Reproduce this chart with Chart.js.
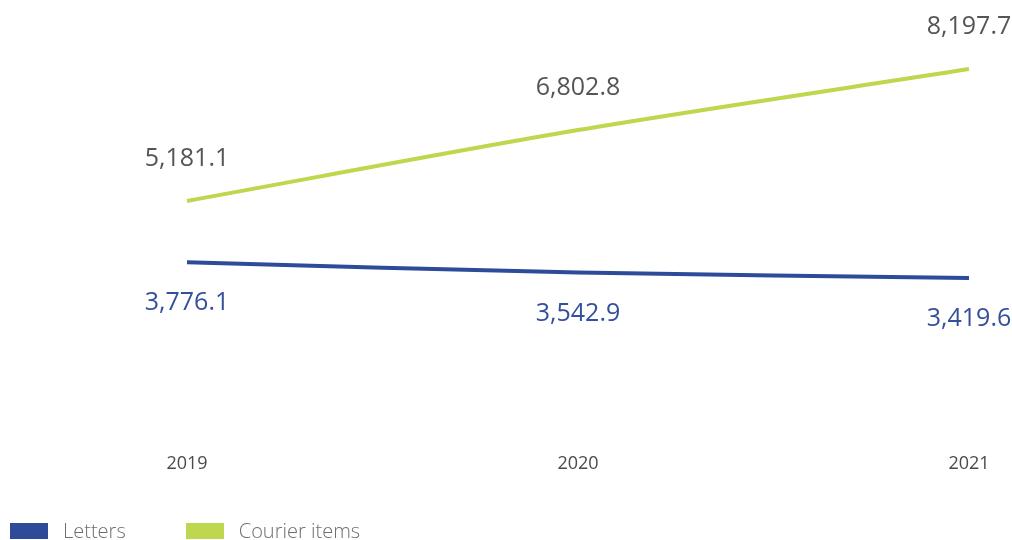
<!DOCTYPE html>
<html>
<head>
<meta charset="utf-8">
<script src="https://cdn.jsdelivr.net/npm/chart.js@4/dist/chart.umd.min.js"></script>
<style>
  html, body { margin: 0; padding: 0; background: #fff; }
  #wrap { position: relative; width: 1012px; height: 540px; overflow: hidden; }
  #c { position: absolute; left: 0; top: 0; }
  .legend { position: absolute; top: 517px; left: 10px; display: flex; align-items: center;
            font-family: 'Open Sans', sans-serif; font-weight: 300; font-size: 20px; color: #6e6e6e; }
  .legend .item { display: flex; align-items: center; margin-right: 60px; }
  .legend .sw { width: 38px; height: 16px; margin-right: 15px; }
</style>
</head>
<body>
<div id="wrap">
  <canvas id="c" width="1012" height="540"></canvas>
  <div class="legend" id="legend"></div>
</div>
<script>
const years = ['2019', '2020', '2021'];
const letters = [3776.1, 3542.9, 3419.6];
const courierItems = [5181.1, 6802.8, 8197.7];

const BLUE = '#2d4b98';
const GREEN = '#bdd74f';

// Value labels: courier items above their points, letters below
const valueLabels = {
  id: 'valueLabels',
  afterDatasetsDraw(chart) {
    const ctx = chart.ctx;
    ctx.save();
    ctx.font = '400 25px "Open Sans", sans-serif';
    ctx.textAlign = 'center';
    ctx.textBaseline = 'middle';
    chart.data.datasets.forEach((ds, i) => {
      const meta = chart.getDatasetMeta(i);
      meta.data.forEach((pt, j) => {
        const v = ds.data[j];
        const txt = v.toLocaleString('en-US', { minimumFractionDigits: 1, maximumFractionDigits: 1 });
        ctx.fillStyle = ds.labelColor;
        ctx.fillText(txt, pt.x, pt.y + ds.labelOffset);
      });
    });
    ctx.restore();
  }
};

new Chart(document.getElementById('c'), {
  type: 'line',
  data: {
    labels: years,
    datasets: [
      { label: 'Letters', data: letters, borderColor: BLUE, backgroundColor: BLUE,
        borderWidth: 4, pointRadius: 0, tension: 0.3, labelColor: '#34509c', labelOffset: 41 },
      { label: 'Courier items', data: courierItems, borderColor: GREEN, backgroundColor: GREEN,
        borderWidth: 4, pointRadius: 0, tension: 0.3, labelColor: '#555555', labelOffset: -42 }
    ]
  },
  options: {
    responsive: false,
    animation: false,
    layout: { padding: { left: 187, right: 43, top: 34, bottom: 65 } },
    plugins: { legend: { display: false }, tooltip: { enabled: false } },
    scales: {
      x: {
        offset: false,
        grid: { display: false, drawTicks: true, tickLength: 26 },
        border: { display: false },
        ticks: { color: '#4a4a4a', padding: 0, font: { family: 'Open Sans', size: 18 } }
      },
      y: { display: false, min: 0, max: 9000 }
    }
  },
  plugins: [valueLabels]
});

// Legend
const legend = document.getElementById('legend');
[['Letters', BLUE], ['Courier items', GREEN]].forEach(([name, col]) => {
  const it = document.createElement('div');
  it.className = 'item';
  it.innerHTML = '<span class="sw" style="background:' + col + '"></span><span>' + name + '</span>';
  legend.appendChild(it);
});
</script>
</body>
</html>
